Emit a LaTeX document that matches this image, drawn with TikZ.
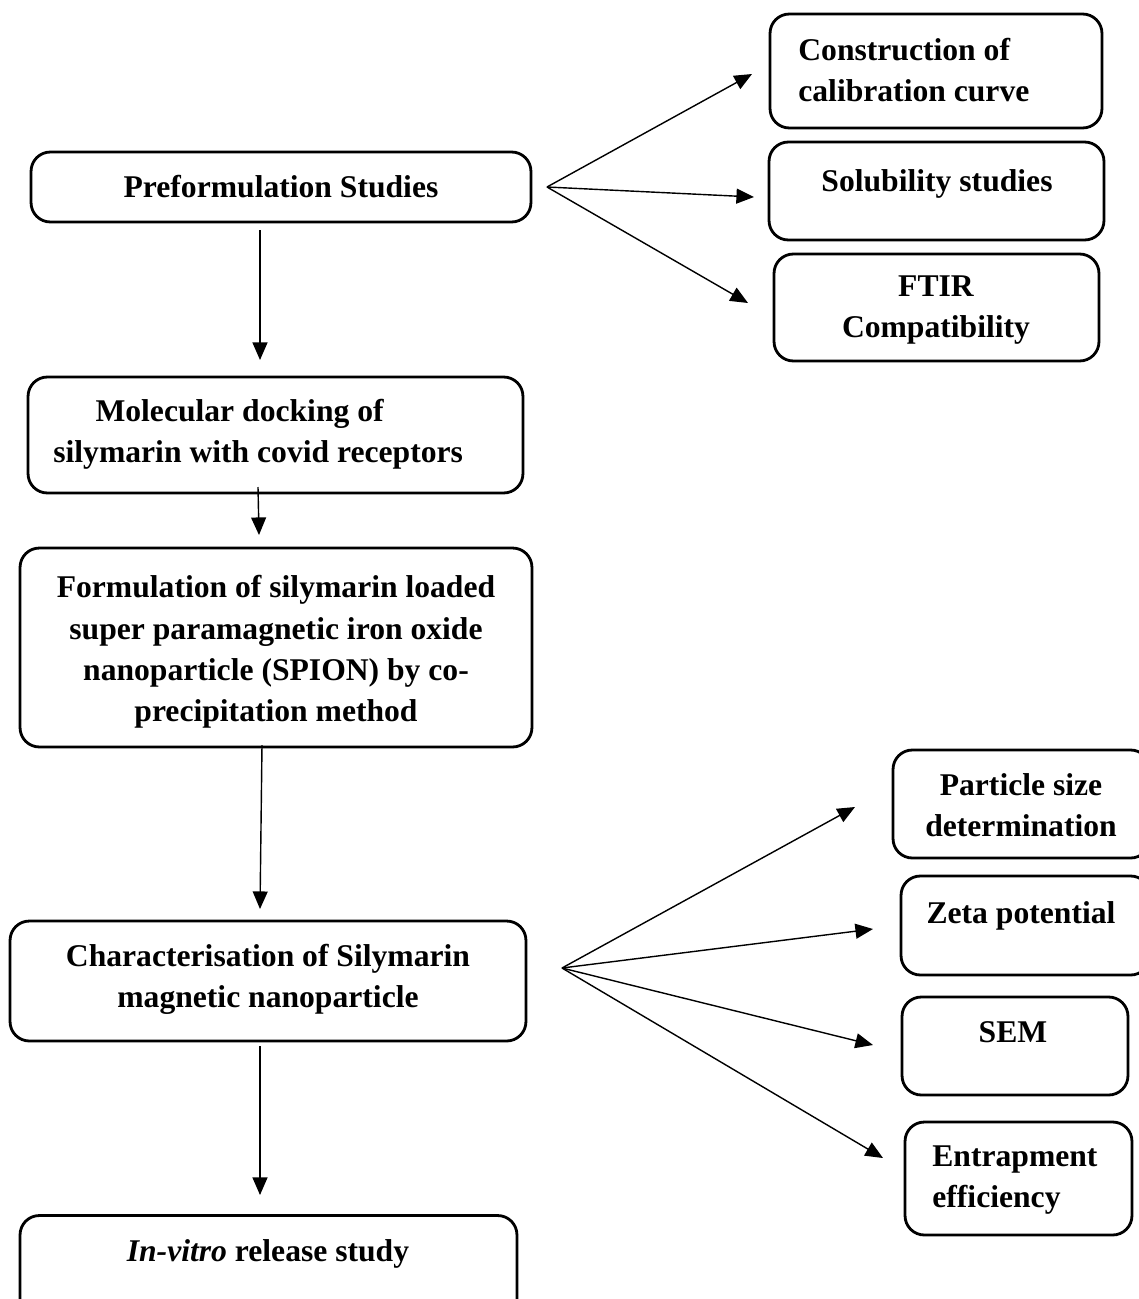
\documentclass[tikz,border=0pt]{standalone}
\usepackage{fontspec}
\setmainfont{Liberation Serif}
\usetikzlibrary{arrows.meta}

\tikzset{
  stage/.style={draw,line width=1.6pt,rounded corners=11pt,inner sep=0pt},
  stagetext/.style={inner sep=0pt,font=\fontsize{18}{23.5}\selectfont\bfseries},
  link/.style={->,line width=0.8pt}
}

\begin{document}
\begin{tikzpicture}[x=0.02cm,y=-0.02cm,>={Triangle[length=10pt,width=8.5pt]}]
\useasboundingbox (0,0) rectangle (1139,1299);
\clip (0,0) rectangle (1139,1299);
% left column
\node[stage,minimum width=10.00cm,minimum height=1.40cm] (pre) at (281,187) {};
\node[stage,minimum width=9.90cm,minimum height=2.32cm] (mol) at (275.5,435) {};
\node[stage,minimum width=10.24cm,minimum height=3.98cm] (form) at (276,647.5) {};
\node[stage,minimum width=10.32cm,minimum height=2.40cm] (char) at (268,981) {};
\node[stage,minimum width=9.94cm,minimum height=2.10cm] (invitro) at (268.5,1268) {};
% right, top
\node[stage,minimum width=6.64cm,minimum height=2.28cm] (calib) at (936,71) {};
\node[stage,minimum width=6.70cm,minimum height=1.96cm] (solub) at (936.5,191) {};
\node[stage,minimum width=6.50cm,minimum height=2.14cm] (ftir) at (936.5,307.5) {};
% right, bottom
\node[stage,minimum width=5.14cm,minimum height=2.16cm] (psize) at (1021.5,804) {};
\node[stage,minimum width=4.98cm,minimum height=1.98cm] (zeta) at (1025.5,925.5) {};
\node[stage,minimum width=4.52cm,minimum height=1.96cm] (sem) at (1015,1046) {};
\node[stage,minimum width=4.54cm,minimum height=2.26cm] (entrap) at (1018.5,1178.5) {};

% texts
\node[stagetext,anchor=base] (pre-t) at (281,197) {Preformulation Studies};
\node[stagetext,anchor=west,align=left] (mol-t) at (53,434) {\hspace*{24pt}Molecular docking of\\silymarin with covid receptors};
\node[stagetext,align=center] (form-t) at (276,652) {Formulation of silymarin loaded\\super paramagnetic iron oxide\\nanoparticle (SPION) by co-\\precipitation method};
\node[stagetext,align=center] (char-t) at (268,979) {Characterisation of Silymarin\\magnetic nanoparticle};
\node[stagetext,anchor=base] (invitro-t) at (268,1261) {\textit{In-vitro} release study};
\node[stagetext,anchor=west,align=left] (calib-t) at (798,70) {Construction of\\calibration curve};
\node[stagetext,anchor=base] (solub-t) at (937,191) {Solubility studies};
\node[stagetext,align=center] (ftir-t) at (936,310) {FTIR\\Compatibility};
\node[stagetext,align=center] (psize-t) at (1021,805) {Particle size\\determination};
\node[stagetext,anchor=base] (zeta-t) at (1021,923) {Zeta potential};
\node[stagetext,anchor=base] (sem-t) at (1013,1042) {SEM};
\node[stagetext,anchor=west,align=left] (entrap-t) at (932,1180) {Entrapment\\efficiency};

% arrow ends
\coordinate (pre-out) at (260,230);
\coordinate (mol-in) at (260,360);
\coordinate (mol-out) at (258,487);
\coordinate (form-in) at (259,535);
\coordinate (form-out) at (262,745);
\coordinate (char-in) at (260,909);
\coordinate (char-out) at (260,1046);
\coordinate (invitro-in) at (260,1195);
\coordinate (fan1) at (547,187);
\coordinate (fan2) at (562,968);
\coordinate (calib-in) at (752,74);
\coordinate (solub-in) at (754,197);
\coordinate (ftir-in) at (748,303);
\coordinate (psize-in) at (855,807);
\coordinate (zeta-in) at (873,929);
\coordinate (sem-in) at (873,1045);
\coordinate (entrap-in) at (883,1158);

\draw [link] (pre-out) -- (mol-in);
\draw [link] (mol-out) -- (form-in);
\draw [link] (form-out) -- (char-in);
\draw [link] (char-out) -- (invitro-in);
\draw [link] (fan1) -- (calib-in);
\draw [link] (fan1) -- (solub-in);
\draw [link] (fan1) -- (ftir-in);
\draw [link] (fan2) -- (psize-in);
\draw [link] (fan2) -- (zeta-in);
\draw [link] (fan2) -- (sem-in);
\draw [link] (fan2) -- (entrap-in);
\end{tikzpicture}
\end{document}
